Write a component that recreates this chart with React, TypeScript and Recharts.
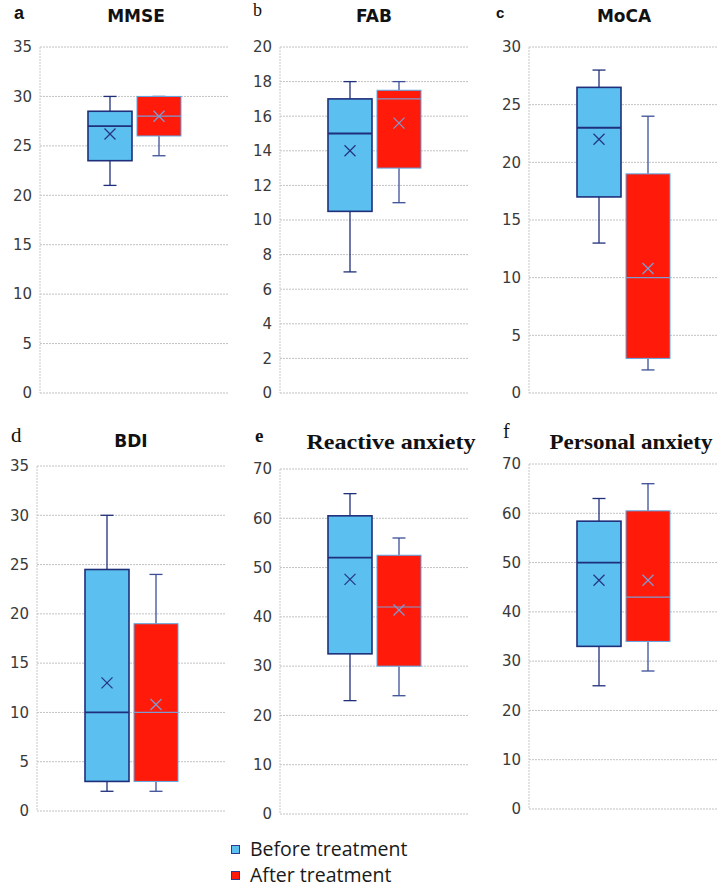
import React from 'react'
import { ComposedChart, Bar, XAxis, YAxis, CartesianGrid } from 'recharts'

const groups = ['Before treatment', 'After treatment']
const titles = ['MMSE', 'FAB', 'MoCA', 'BDI', 'Reactive anxiety', 'Personal anxiety']
const letters = ['a', 'b', 'c', 'd', 'e', 'f']
const yTicks = [
  [0, 5, 10, 15, 20, 25, 30, 35],
  [0, 2, 4, 6, 8, 10, 12, 14, 16, 18, 20],
  [0, 5, 10, 15, 20, 25, 30],
  [0, 5, 10, 15, 20, 25, 30, 35],
  [0, 10, 20, 30, 40, 50, 60, 70],
  [0, 10, 20, 30, 40, 50, 60, 70],
]

// before treatment, one value per panel
const beforeMin = [21, 7, 13, 2, 23, 25]
const beforeQ1 = [23.5, 10.5, 17, 3, 32.5, 33]
const beforeMedian = [27, 15, 23, 10, 52, 50]
const beforeQ3 = [28.5, 17, 26.5, 24.5, 60.5, 58.4]
const beforeMax = [30, 18, 28, 30, 65, 63]
const beforeMean = [26.2, 14, 22, 13, 47.6, 46.4]

// after treatment
const afterMin = [24, 11, 2, 2, 24, 28]
const afterQ1 = [26, 13, 3, 3, 30, 34]
const afterMedian = [28, 17, 10, 10, 42, 43]
const afterQ3 = [30, 17.5, 19, 19, 52.5, 60.5]
const afterMax = [30, 18, 24, 24, 56, 66]
const afterMean = [28, 15.6, 10.8, 10.8, 41.4, 46.4]

// layout of every panel's plot area (page pixels)
const plotLeft = [40, 280, 529, 37, 280, 529]
const plotRight = [228, 468, 717, 226, 468, 717]
const plotTop = [47, 47, 47, 466, 469, 464]
const plotBottom = [393, 393, 393, 811, 814, 809]
const titleX = [136, 374, 624, 131, 391, 631]
const titleY = [22, 22, 22, 447, 449, 449]

const styles = [
  { fill: '#5bc0f0', border: '#1f2f7a', whisker: '#1f2f7a', median: '#1f2f7a', mean: '#26357f', borderW: 1.6 },
  { fill: '#ff1a0a', border: '#5aa8e6', whisker: '#3b4f98', median: '#7e9bd0', mean: '#7e9bd0', borderW: 1 },
]

const renderBox = (p: any, key: 'before' | 'after', st: any) => {
  const s = p.payload[key]
  const top = Math.min(p.y, p.y + p.height)
  const h = Math.abs(p.height)
  const py = (v: number) => top + ((s.max - v) / (s.max - s.min)) * h
  const cx = p.x + p.width / 2
  const cap = 6.5
  const my = py(s.mean)
  return (
    <g>
      <line x1={cx} x2={cx} y1={py(s.max)} y2={py(s.q3)} stroke={st.whisker} strokeWidth={1.3} />
      <line x1={cx} x2={cx} y1={py(s.q1)} y2={py(s.min)} stroke={st.whisker} strokeWidth={1.3} />
      <line x1={cx - cap} x2={cx + cap} y1={py(s.max)} y2={py(s.max)} stroke={st.whisker} strokeWidth={1.3} />
      <line x1={cx - cap} x2={cx + cap} y1={py(s.min)} y2={py(s.min)} stroke={st.whisker} strokeWidth={1.3} />
      <rect x={p.x} y={py(s.q3)} width={p.width} height={py(s.q1) - py(s.q3)} fill={st.fill} stroke={st.border} strokeWidth={st.borderW} />
      <line x1={p.x} x2={p.x + p.width} y1={py(s.median)} y2={py(s.median)} stroke={st.median} strokeWidth={st.borderW + 0.2} />
      <line x1={cx - 5.5} x2={cx + 5.5} y1={my - 5.5} y2={my + 5.5} stroke={st.mean} strokeWidth={1.3} />
      <line x1={cx - 5.5} x2={cx + 5.5} y1={my + 5.5} y2={my - 5.5} stroke={st.mean} strokeWidth={1.3} />
    </g>
  )
}

const Panel = ({ i }: { i: number }) => {
  const col = i % 3
  const L = col * 240
  const T = i < 3 ? 0 : 410
  const W = col === 2 ? 245 : 240
  const H = i < 3 ? 410 : 425
  const data = [
    {
      name: titles[i],
      before: { min: beforeMin[i], q1: beforeQ1[i], median: beforeMedian[i], q3: beforeQ3[i], max: beforeMax[i], mean: beforeMean[i] },
      after: { min: afterMin[i], q1: afterQ1[i], median: afterMedian[i], q3: afterQ3[i], max: afterMax[i], mean: afterMean[i] },
    },
  ]
  const ticks = yTicks[i]
  return (
    <div style={{ position: 'absolute', left: L, top: T }}>
      <ComposedChart
        width={W}
        height={H}
        data={data}
        barGap={5}
        margin={{ top: plotTop[i] - T, bottom: T + H - plotBottom[i], left: 0, right: L + W - plotRight[i] }}
      >
        <CartesianGrid vertical={false} stroke="#c2c2c2" strokeDasharray="2 1" />
        <XAxis dataKey="name" hide />
        <YAxis
          width={plotLeft[i] - L}
          domain={[0, ticks[ticks.length - 1]]}
          ticks={ticks}
          interval={0}
          tickLine={false}
          axisLine={{ stroke: '#c8c8c8', strokeDasharray: '2 1' }}
          tick={{ fill: '#3a3a3a', fontSize: 15, fontFamily: 'DejaVu Sans' }}
        />
        <Bar
          dataKey={(d: any) => [d.before.min, d.before.max]}
          name={groups[0]}
          barSize={44}
          isAnimationActive={false}
          shape={(p: any) => renderBox(p, 'before', styles[0])}
        />
        <Bar
          dataKey={(d: any) => [d.after.min, d.after.max]}
          name={groups[1]}
          barSize={44}
          isAnimationActive={false}
          shape={(p: any) => renderBox(p, 'after', styles[1])}
        />
      </ComposedChart>
    </div>
  )
}

const letterStyle = [
  { x: 14, y: 19, size: 18, family: 'Liberation Sans', weight: 'bold' },
  { x: 253, y: 16, size: 18, family: 'Liberation Serif', weight: 'normal' },
  { x: 496, y: 18, size: 15, family: 'Liberation Sans', weight: 'bold' },
  { x: 11, y: 442, size: 21, family: 'Liberation Serif', weight: 'normal' },
  { x: 255, y: 442, size: 19, family: 'Liberation Serif', weight: 'bold' },
  { x: 503, y: 438, size: 20, family: 'Liberation Serif', weight: 'normal' },
]

export default function App() {
  return (
    <div style={{ position: 'absolute', left: 0, top: 0, width: 725, height: 888, background: '#fff', overflow: 'hidden' }}>
      {titles.map((t, i) => (
        <Panel key={t} i={i} />
      ))}
      <svg width={725} height={888} style={{ position: 'absolute', left: 0, top: 0, pointerEvents: 'none' }}>
        {letters.map((l, i) => (
          <text
            key={l}
            x={letterStyle[i].x}
            y={letterStyle[i].y}
            fontSize={letterStyle[i].size}
            fontFamily={letterStyle[i].family}
            fontWeight={letterStyle[i].weight}
            fill="#111"
          >
            {l}
          </text>
        ))}
        {titles.map((t, i) =>
          i < 4 ? (
            <text key={t} x={titleX[i]} y={titleY[i]} textAnchor="middle" fontSize={17} fontWeight="bold" fontFamily="DejaVu Sans" fill="#111">
              {t}
            </text>
          ) : (
            <text
              key={t}
              x={titleX[i]}
              y={titleY[i]}
              textAnchor="middle"
              fontSize={21}
              fontWeight="bold"
              fontFamily="Liberation Serif"
              fill="#111"
              textLength={i === 4 ? 169 : 163}
              lengthAdjust="spacingAndGlyphs"
            >
              {t}
            </text>
          )
        )}
      </svg>
      {groups.map((g, k) => (
        <div key={g} style={{ position: 'absolute', left: 231, top: k === 0 ? 836 : 862, display: 'flex', alignItems: 'center', height: 26 }}>
          <div style={{ width: 7, height: 7, background: styles[k].fill, border: '1px solid #2e3b8c', marginRight: 10 }} />
          <span style={{ fontFamily: 'Open Sans', fontSize: 19.5, color: '#1a1a1a', lineHeight: '26px' }}>{g}</span>
        </div>
      ))}
    </div>
  )
}
